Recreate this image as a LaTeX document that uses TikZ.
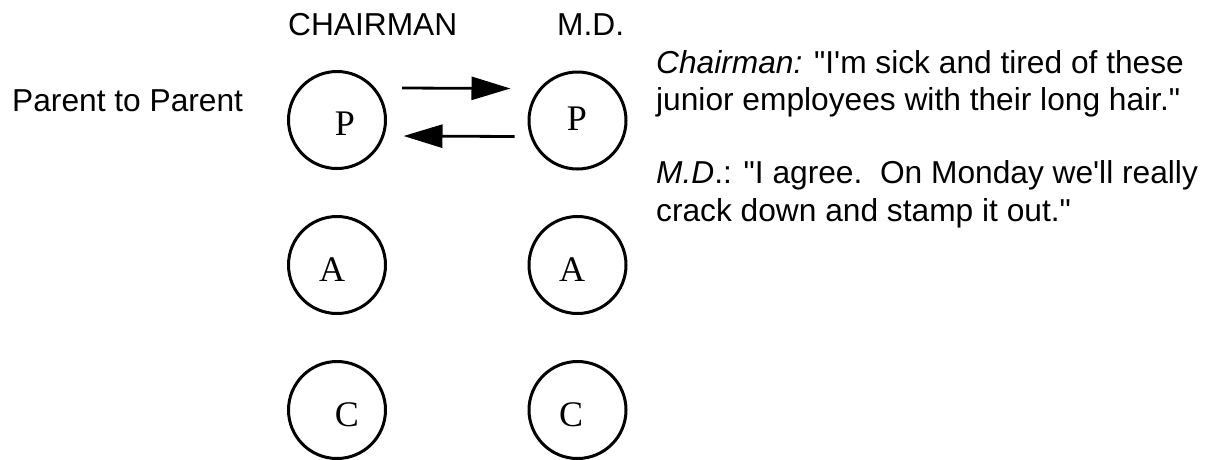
\documentclass[tikz,border=0pt]{standalone}
\usepackage{fontspec}
\newfontfamily\arialish{Liberation Sans}
\newfontfamily\lserif{Liberation Serif}
\usetikzlibrary{arrows.meta}
\begin{document}
\begin{tikzpicture}[x=1pt,y=-1pt,
  ego/.style={circle,draw,line width=3pt,minimum size=97pt,inner sep=0pt},
  letter/.style={anchor=base,inner sep=0pt,font=\lserif\fontsize{36}{40}\selectfont},
  txt/.style={anchor=base west,inner sep=0pt,font=\arialish\fontsize{31.7}{37}\selectfont},
  flow/.style={line width=2.8pt,-{Triangle[length=39pt,width=23pt]}}]
\useasboundingbox (0,0) rectangle (1213,459);
% headings
\node[txt] (hc) at (288,35) {CHAIRMAN};
\node[txt] (hm) at (557,35) {M.D.};
\node[txt] (hp) at (12,111) {Parent to Parent};
% circles
\node[ego] (pl) at (337,120) {};
\node[ego] (pr) at (577.5,120.5) {};
\node[ego] (al) at (337,265) {};
\node[ego] (ar) at (577.5,265) {};
\node[ego] (cl) at (337,410) {};
\node[ego] (cr) at (577.5,410) {};
% letters
\node[letter] (tpl) at (345,135) {P};
\node[letter] (tpr) at (577,130) {P};
\node[letter] (tal) at (332,281) {A};
\node[letter] (tar) at (572,281) {A};
\node[letter] (tcl) at (347,426) {C};
\node[letter] (tcr) at (571,426) {C};
% arrows
\draw[flow] ([shift={(15pt,32pt)}]pl.east) -- ([shift={(-17pt,32pt)}]pr.west);
\draw[flow] ([shift={(-13pt,-16pt)}]pr.west) -- ([shift={(16.5pt,-16pt)}]pl.east);
% dialogue
\node[txt] (d1) at (656,73) {\textit{Chairman:} "I'm sick and tired of these};
\node[txt] (d2) at (656,110.5) {junior employees with their long hair."};
\node[txt] (d3) at (656,183.5) {\textit{M.D}.: "I agree.\ \ On Monday we'll really};
\node[txt] (d4) at (656,221) {crack down and stamp it out."};
\end{tikzpicture}
\end{document}
